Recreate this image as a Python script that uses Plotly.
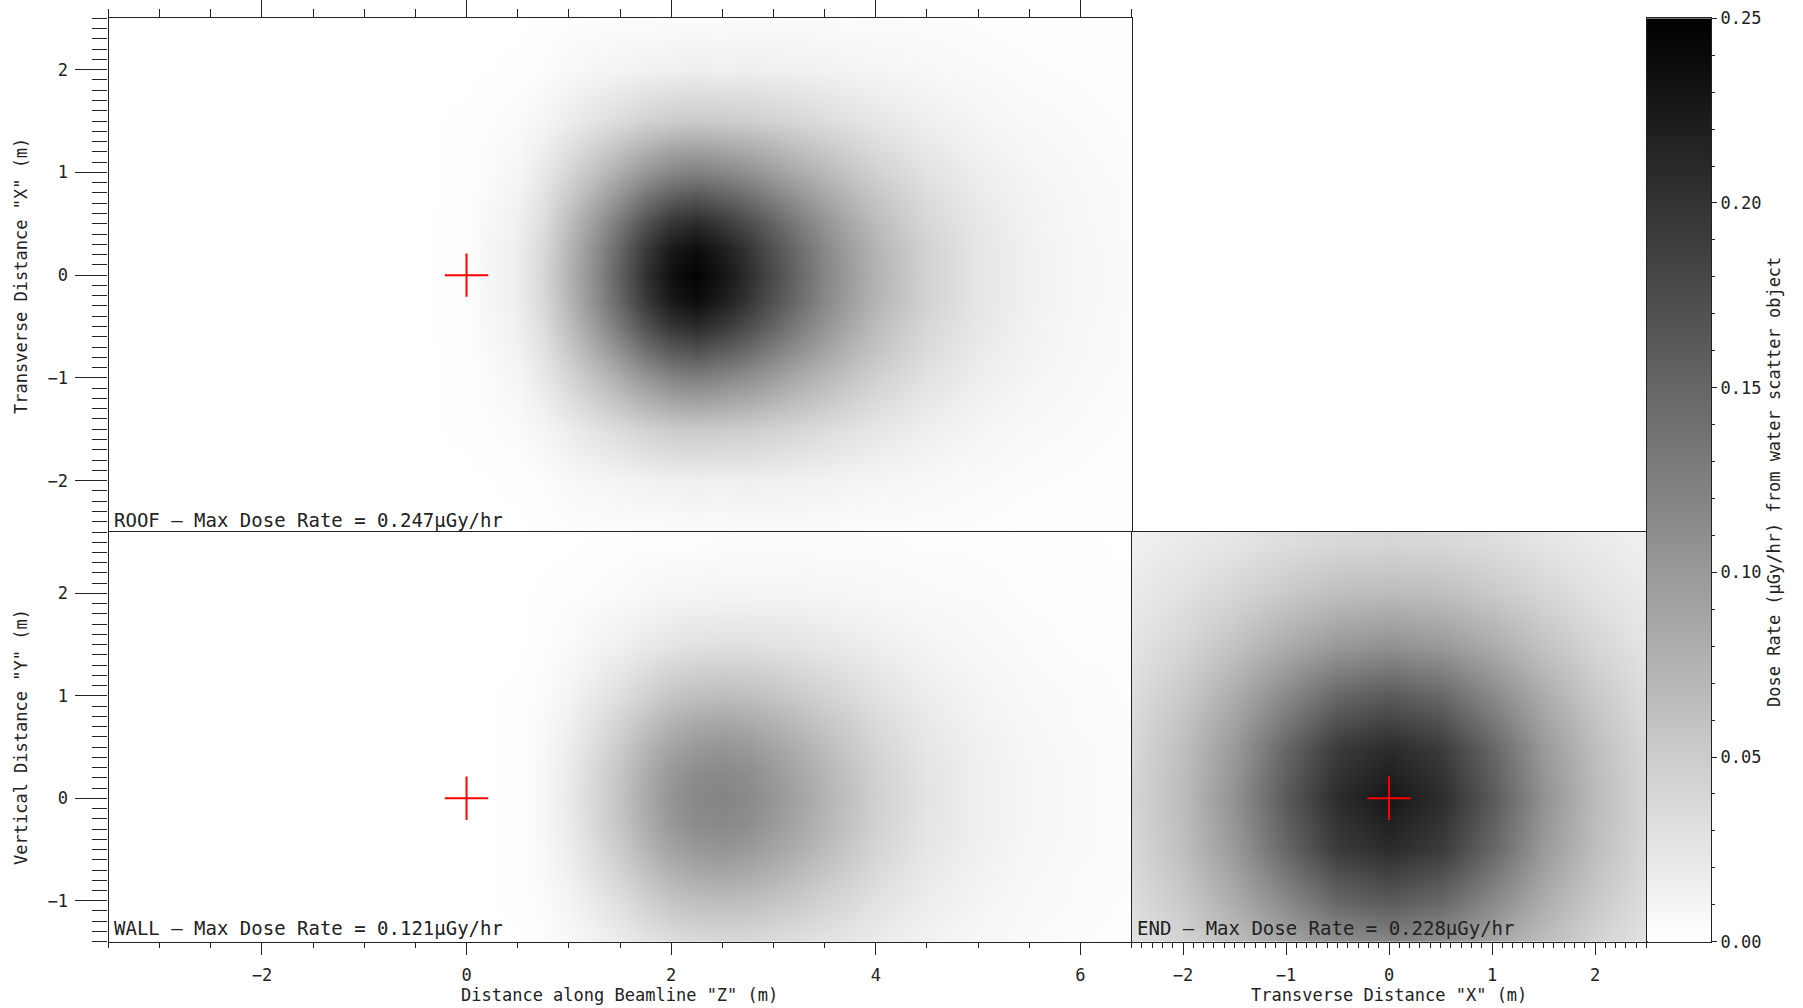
import plotly.graph_objects as go

# ------------------------------------------------------------------
# Data (dose rate in uGy/hr)
# ------------------------------------------------------------------
roof_z = [-3.5, -3.0, -2.5, -2.0, -1.5, -1.0, -0.5, 0.0, 0.5, 0.75, 1.0, 1.25, 1.5, 1.75,
          2.0, 2.25, 2.5, 2.75, 3.0, 3.25, 3.5, 3.75, 4.0, 4.5, 5.0, 5.5, 6.0, 6.5]
roof_x = [-2.5, -2.0, -1.5, -1.0, -0.75, -0.5, -0.25, 0.0, 0.25, 0.5, 0.75, 1.0, 1.5, 2.0, 2.5]
roof_dose = [
    [0, 0, 0, 0, 0, 0, 0, 0.000, 0.000, 0.001, 0.002, 0.002, 0.003, 0.003, 0.003, 0.003, 0.003, 0.004, 0.004, 0.004, 0.004, 0.003, 0.003, 0.003, 0.002, 0.001, 0.001, 0.001],
    [0, 0, 0, 0, 0, 0, 0, 0.000, 0.001, 0.003, 0.006, 0.009, 0.011, 0.013, 0.015, 0.016, 0.015, 0.016, 0.015, 0.014, 0.013, 0.011, 0.010, 0.007, 0.005, 0.003, 0.002, 0.001],
    [0, 0, 0, 0, 0, 0, 0, 0.001, 0.004, 0.010, 0.018, 0.027, 0.035, 0.044, 0.050, 0.052, 0.050, 0.048, 0.044, 0.039, 0.034, 0.029, 0.024, 0.016, 0.010, 0.006, 0.004, 0.002],
    [0, 0, 0, 0, 0, 0, 0, 0.001, 0.009, 0.021, 0.040, 0.060, 0.081, 0.102, 0.118, 0.124, 0.117, 0.108, 0.095, 0.081, 0.069, 0.056, 0.045, 0.028, 0.017, 0.010, 0.006, 0.003],
    [0, 0, 0, 0, 0, 0, 0, 0.001, 0.012, 0.028, 0.052, 0.079, 0.108, 0.137, 0.159, 0.167, 0.157, 0.143, 0.124, 0.105, 0.088, 0.071, 0.057, 0.034, 0.020, 0.012, 0.007, 0.004],
    [0, 0, 0, 0, 0, 0, 0, 0.002, 0.015, 0.033, 0.063, 0.097, 0.133, 0.170, 0.198, 0.208, 0.194, 0.175, 0.151, 0.127, 0.105, 0.084, 0.066, 0.039, 0.023, 0.013, 0.007, 0.004],
    [0, 0, 0, 0, 0, 0, 0, 0.002, 0.016, 0.038, 0.071, 0.109, 0.151, 0.193, 0.225, 0.237, 0.221, 0.198, 0.169, 0.142, 0.116, 0.093, 0.073, 0.043, 0.025, 0.014, 0.008, 0.004],
    [0, 0, 0, 0, 0, 0, 0, 0.002, 0.017, 0.039, 0.074, 0.113, 0.157, 0.201, 0.235, 0.247, 0.230, 0.206, 0.176, 0.147, 0.120, 0.096, 0.075, 0.044, 0.025, 0.014, 0.008, 0.004],
    [0, 0, 0, 0, 0, 0, 0, 0.002, 0.016, 0.038, 0.071, 0.109, 0.151, 0.193, 0.225, 0.237, 0.221, 0.198, 0.169, 0.142, 0.116, 0.093, 0.073, 0.043, 0.025, 0.014, 0.008, 0.004],
    [0, 0, 0, 0, 0, 0, 0, 0.002, 0.015, 0.033, 0.063, 0.097, 0.133, 0.170, 0.198, 0.208, 0.194, 0.175, 0.151, 0.127, 0.105, 0.084, 0.066, 0.039, 0.023, 0.013, 0.007, 0.004],
    [0, 0, 0, 0, 0, 0, 0, 0.001, 0.012, 0.028, 0.052, 0.079, 0.108, 0.137, 0.159, 0.167, 0.157, 0.143, 0.124, 0.105, 0.088, 0.071, 0.057, 0.034, 0.020, 0.012, 0.007, 0.004],
    [0, 0, 0, 0, 0, 0, 0, 0.001, 0.009, 0.021, 0.040, 0.060, 0.081, 0.102, 0.118, 0.124, 0.117, 0.108, 0.095, 0.081, 0.069, 0.056, 0.045, 0.028, 0.017, 0.010, 0.006, 0.003],
    [0, 0, 0, 0, 0, 0, 0, 0.001, 0.004, 0.010, 0.018, 0.027, 0.035, 0.044, 0.050, 0.052, 0.050, 0.048, 0.044, 0.039, 0.034, 0.029, 0.024, 0.016, 0.010, 0.006, 0.004, 0.002],
    [0, 0, 0, 0, 0, 0, 0, 0.000, 0.001, 0.003, 0.006, 0.009, 0.011, 0.013, 0.015, 0.016, 0.015, 0.016, 0.015, 0.014, 0.013, 0.011, 0.010, 0.007, 0.005, 0.003, 0.002, 0.001],
    [0, 0, 0, 0, 0, 0, 0, 0.000, 0.000, 0.001, 0.002, 0.002, 0.003, 0.003, 0.003, 0.003, 0.003, 0.004, 0.004, 0.004, 0.004, 0.003, 0.003, 0.003, 0.002, 0.001, 0.001, 0.001],
]

wall_z = [-3.5, -3.0, -2.5, -2.0, -1.5, -1.0, -0.5, 0.0, 0.5, 0.75, 1.0, 1.25, 1.5, 1.75,
          2.0, 2.25, 2.5, 2.75, 3.0, 3.25, 3.5, 3.75, 4.0, 4.5, 5.0, 5.5, 6.0, 6.5]
wall_y = [-1.5, -1.0, -0.75, -0.5, -0.25, 0.0, 0.25, 0.5, 0.75, 1.0, 1.5, 2.0, 2.5]
wall_dose = [
    [0, 0, 0, 0, 0, 0, 0, 0, 0.000, 0.002, 0.005, 0.010, 0.015, 0.021, 0.026, 0.029, 0.030, 0.030, 0.028, 0.026, 0.023, 0.020, 0.017, 0.011, 0.007, 0.004, 0.002, 0.002],
    [0, 0, 0, 0, 0, 0, 0, 0, 0.001, 0.004, 0.011, 0.021, 0.032, 0.045, 0.057, 0.063, 0.065, 0.063, 0.058, 0.051, 0.044, 0.037, 0.029, 0.018, 0.011, 0.006, 0.004, 0.002],
    [0, 0, 0, 0, 0, 0, 0, 0, 0.001, 0.006, 0.014, 0.028, 0.042, 0.059, 0.074, 0.083, 0.086, 0.082, 0.074, 0.065, 0.055, 0.046, 0.036, 0.021, 0.013, 0.007, 0.004, 0.003],
    [0, 0, 0, 0, 0, 0, 0, 0, 0.001, 0.007, 0.017, 0.033, 0.051, 0.071, 0.090, 0.100, 0.104, 0.099, 0.089, 0.078, 0.065, 0.053, 0.041, 0.024, 0.015, 0.008, 0.005, 0.003],
    [0, 0, 0, 0, 0, 0, 0, 0, 0.001, 0.008, 0.019, 0.038, 0.057, 0.080, 0.101, 0.113, 0.116, 0.111, 0.099, 0.086, 0.072, 0.058, 0.045, 0.026, 0.016, 0.009, 0.005, 0.003],
    [0, 0, 0, 0, 0, 0, 0, 0, 0.001, 0.008, 0.020, 0.039, 0.059, 0.083, 0.105, 0.117, 0.121, 0.115, 0.103, 0.089, 0.074, 0.060, 0.046, 0.027, 0.016, 0.009, 0.005, 0.003],
    [0, 0, 0, 0, 0, 0, 0, 0, 0.001, 0.008, 0.019, 0.038, 0.057, 0.080, 0.101, 0.113, 0.116, 0.111, 0.099, 0.086, 0.072, 0.058, 0.045, 0.026, 0.016, 0.009, 0.005, 0.003],
    [0, 0, 0, 0, 0, 0, 0, 0, 0.001, 0.007, 0.017, 0.033, 0.051, 0.071, 0.090, 0.100, 0.104, 0.099, 0.089, 0.078, 0.065, 0.053, 0.041, 0.024, 0.015, 0.008, 0.005, 0.003],
    [0, 0, 0, 0, 0, 0, 0, 0, 0.001, 0.006, 0.014, 0.028, 0.042, 0.059, 0.074, 0.083, 0.086, 0.082, 0.074, 0.065, 0.055, 0.046, 0.036, 0.021, 0.013, 0.007, 0.004, 0.003],
    [0, 0, 0, 0, 0, 0, 0, 0, 0.001, 0.004, 0.011, 0.021, 0.032, 0.045, 0.057, 0.063, 0.065, 0.063, 0.058, 0.051, 0.044, 0.037, 0.029, 0.018, 0.011, 0.006, 0.004, 0.002],
    [0, 0, 0, 0, 0, 0, 0, 0, 0.000, 0.002, 0.005, 0.010, 0.015, 0.021, 0.026, 0.029, 0.030, 0.030, 0.028, 0.026, 0.023, 0.020, 0.017, 0.011, 0.007, 0.004, 0.002, 0.002],
    [0, 0, 0, 0, 0, 0, 0, 0, 0.000, 0.001, 0.002, 0.003, 0.005, 0.007, 0.009, 0.010, 0.010, 0.010, 0.010, 0.010, 0.009, 0.008, 0.007, 0.005, 0.004, 0.002, 0.001, 0.001],
    [0, 0, 0, 0, 0, 0, 0, 0, 0.000, 0.000, 0.000, 0.001, 0.001, 0.002, 0.002, 0.002, 0.003, 0.003, 0.003, 0.003, 0.003, 0.003, 0.003, 0.002, 0.002, 0.001, 0.001, 0.000],
]

end_x = [-2.5, -2.0, -1.5, -1.0, -0.5, 0.0, 0.5, 1.0, 1.5, 2.0, 2.5]
end_y = [-1.5, -1.0, -0.5, 0.0, 0.5, 1.0, 1.5, 2.0, 2.5]
end_dose = [
    [0.026, 0.040, 0.059, 0.081, 0.099, 0.107, 0.099, 0.081, 0.059, 0.040, 0.026],
    [0.033, 0.053, 0.081, 0.116, 0.149, 0.162, 0.149, 0.116, 0.081, 0.053, 0.033],
    [0.038, 0.063, 0.099, 0.149, 0.192, 0.207, 0.192, 0.149, 0.099, 0.063, 0.038],
    [0.040, 0.066, 0.107, 0.162, 0.207, 0.228, 0.207, 0.162, 0.107, 0.066, 0.040],
    [0.038, 0.063, 0.099, 0.149, 0.192, 0.207, 0.192, 0.149, 0.099, 0.063, 0.038],
    [0.033, 0.053, 0.081, 0.116, 0.149, 0.162, 0.149, 0.116, 0.081, 0.053, 0.033],
    [0.026, 0.040, 0.059, 0.081, 0.099, 0.107, 0.099, 0.081, 0.059, 0.040, 0.026],
    [0.020, 0.029, 0.040, 0.053, 0.063, 0.066, 0.063, 0.053, 0.040, 0.029, 0.020],
    [0.015, 0.020, 0.026, 0.033, 0.038, 0.040, 0.038, 0.033, 0.026, 0.020, 0.015],
]

# scatter-source location (red crosses)
source_z = [0.0]
source_x = [0.0]
source_y = [0.0]

# colour-bar levels (dose rate range)
colorbar_levels = [0.0, 0.25]

panel_labels = {
    "roof": "ROOF \u2013 Max Dose Rate = 0.247\u03bcGy/hr",
    "wall": "WALL \u2013 Max Dose Rate = 0.121\u03bcGy/hr",
    "end": "END \u2013 Max Dose Rate = 0.228\u03bcGy/hr",
}
title_z = 'Distance along Beamline "Z" (m)'
title_x = 'Transverse Distance "X" (m)'
title_y = 'Vertical Distance "Y" (m)'
title_cbar = "Dose Rate (\u03bcGy/hr) from water scatter object"

# ------------------------------------------------------------------
W, H = 1803, 1008
FONT = "DejaVu Sans Mono"
LC = "#222222"
LW = 1.3


def px(x):
    return x / W


def py(y):
    return 1 - y / H


X0, X1, X2, X3 = px(108.5), px(1131.5), px(1646.5), px(1711.0)
YB, YM, YT = py(941.7), py(532.0), py(18.3)

fig = go.Figure()

common_hm = dict(coloraxis="coloraxis", zsmooth="best", hoverinfo="skip")
fig.add_trace(go.Heatmap(x=roof_z, y=roof_x, z=roof_dose, xaxis="x", yaxis="y", **common_hm))
fig.add_trace(go.Heatmap(x=wall_z, y=wall_y, z=wall_dose, xaxis="x2", yaxis="y2", **common_hm))
fig.add_trace(go.Heatmap(x=end_x, y=end_y, z=end_dose, xaxis="x3", yaxis="y3", **common_hm))
fig.add_trace(go.Heatmap(x=[0, 1], y=colorbar_levels,
                         z=[[v, v] for v in colorbar_levels],
                         xaxis="x4", yaxis="y4", **common_hm))

cross = dict(mode="markers", showlegend=False, hoverinfo="skip",
             marker=dict(symbol="cross-thin", size=31, color="red",
                         line=dict(color="red", width=2)))
fig.add_trace(go.Scatter(x=source_z, y=source_x, xaxis="x", yaxis="y", **cross))
fig.add_trace(go.Scatter(x=source_z, y=source_y, xaxis="x2", yaxis="y2", **cross))
fig.add_trace(go.Scatter(x=source_x, y=source_y, xaxis="x3", yaxis="y3", **cross))

base = dict(showline=True, linecolor=LC, linewidth=LW, mirror=True,
            showgrid=False, zeroline=False, tickcolor=LC, tickwidth=LW,
            automargin=False,
            tickfont=dict(family=FONT, size=17, color=LC))


def minor(dt, ln):
    return dict(dtick=dt, ticklen=ln, ticks="outside", tickcolor=LC,
                tickwidth=LW, showgrid=False)


fig.update_layout(
    width=W, height=H, autosize=False,
    margin=dict(l=0, r=0, t=0, b=0, pad=0, autoexpand=False),
    paper_bgcolor="white", plot_bgcolor="white", showlegend=False,
    font=dict(family=FONT, size=17, color=LC),
    coloraxis=dict(colorscale=[[0, "#ffffff"], [1, "#000000"]],
                   cmin=colorbar_levels[0], cmax=colorbar_levels[1], showscale=False),
    xaxis=dict(base, domain=[X0, X1], anchor="y", side="top", range=[-3.5, 6.5],
               ticks="outside", tick0=0, dtick=2, ticklen=17, showticklabels=False,
               minor=minor(0.5, 8)),
    yaxis=dict(base, domain=[YM, YT], anchor="x", range=[-2.5, 2.5],
               ticks="outside", tick0=0, dtick=1, ticklen=32, ticklabelstandoff=4,
               minor=minor(0.1, 15)),
    xaxis2=dict(base, domain=[X0, X1], anchor="y2", range=[-3.5, 6.5],
                ticks="outside", tick0=0, dtick=2, ticklen=12, ticklabelstandoff=6,
                minor=minor(0.5, 5)),
    yaxis2=dict(base, domain=[YB, YM], anchor="x2", range=[-1.4, 2.6],
                ticks="outside", tick0=0, dtick=1, ticklen=32, ticklabelstandoff=4,
                minor=minor(0.1, 15)),
    xaxis3=dict(base, domain=[X1, X2], anchor="y3", range=[-2.5, 2.5],
                ticks="outside", tick0=0, dtick=1, ticklen=12, ticklabelstandoff=6,
                minor=minor(0.1, 5)),
    yaxis3=dict(base, domain=[YB, YM], anchor="x3", range=[-1.4, 2.6],
                ticks="", showticklabels=False),
    xaxis4=dict(base, domain=[X2, X3], anchor="y4", range=[0, 1],
                ticks="", showticklabels=False),
    yaxis4=dict(base, domain=[YB, YT], anchor="x4", side="right",
                range=[colorbar_levels[0], colorbar_levels[1]],
                ticks="outside", tick0=0, dtick=0.05, tickformat=".2f", ticklen=5,
                minor=minor(0.01, 3)),
)

ann = []


def text(x, y, s, size=17, angle=0, xanchor="center"):
    ann.append(dict(x=px(x), y=py(y), xref="paper", yref="paper", text=s,
                    showarrow=False, textangle=angle, xanchor=xanchor,
                    yanchor="middle", font=dict(family=FONT, size=size, color=LC)))


text(619.5, 995, title_z)
text(1388.5, 995, title_x)
text(21, 276, title_x, angle=-90)
text(21, 737, title_y, angle=-90)
text(1774, 482, title_cbar, angle=-90)
text(112, 520, panel_labels["roof"], size=19, xanchor="left")
text(112, 928, panel_labels["wall"], size=19, xanchor="left")
text(1135, 928, panel_labels["end"], size=19, xanchor="left")
fig.update_layout(annotations=ann)

fig.write_html("out.html",
               config={"displayModeBar": False},
               post_script="document.body.style.margin='0';document.body.style.overflow='hidden';")
